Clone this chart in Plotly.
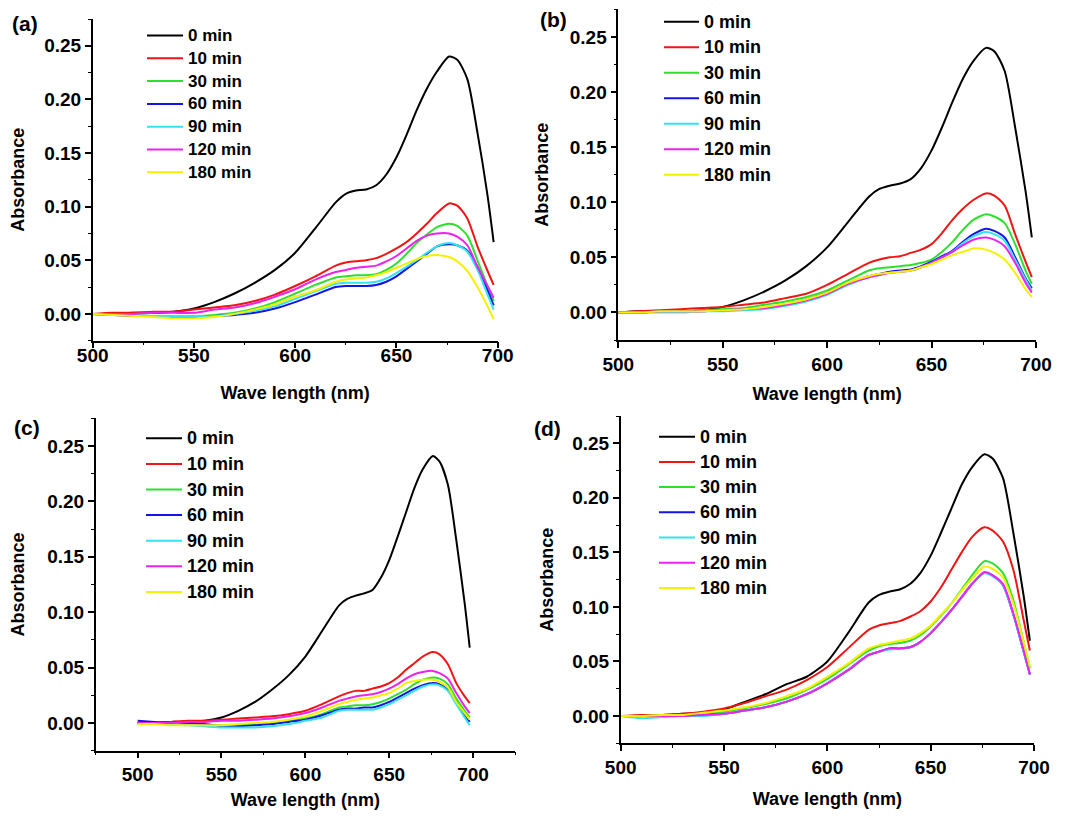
import plotly.graph_objects as go

# wavelength grid (nm) shared by every curve
wavelength = [500, 510, 520, 530, 540, 550, 560, 570, 580, 590, 600, 610, 620, 625, 630,
              635, 640, 645, 650, 655, 660, 665, 670, 676, 680, 685, 690, 695, 698]

times = ["0 min", "10 min", "30 min", "60 min", "90 min", "120 min", "180 min"]
colors = ["#000000", "#f01414", "#2ee02e", "#1414e6", "#33e3f0", "#ee22ee", "#f5f000"]

# panel (a)
a_0 = [0.000, 0.000, 0.001, 0.001, 0.002, 0.005, 0.011, 0.019, 0.029, 0.041, 0.057, 0.080, 0.104, 0.112, 0.115,
       0.116, 0.120, 0.130, 0.146, 0.167, 0.190, 0.210, 0.226, 0.240, 0.237, 0.219, 0.169, 0.110, 0.067]
a_10 = [0.000, 0.001, 0.001, 0.002, 0.002, 0.004, 0.006, 0.008, 0.012, 0.018, 0.026, 0.035, 0.045, 0.048, 0.049,
        0.050, 0.052, 0.056, 0.061, 0.067, 0.075, 0.084, 0.094, 0.103, 0.101, 0.089, 0.063, 0.040, 0.027]
a_30 = [0.000, -0.001, -0.001, -0.002, -0.002, -0.002, -0.001, 0.001, 0.005, 0.011, 0.019, 0.027, 0.034, 0.035, 0.036,
        0.036, 0.037, 0.041, 0.047, 0.056, 0.066, 0.074, 0.081, 0.084, 0.082, 0.073, 0.050, 0.026, 0.012]
a_60 = [0.000, -0.001, -0.002, -0.002, -0.003, -0.003, -0.002, -0.001, 0.001, 0.005, 0.011, 0.018, 0.025, 0.026, 0.026,
        0.026, 0.027, 0.030, 0.035, 0.042, 0.049, 0.056, 0.063, 0.065, 0.064, 0.059, 0.044, 0.022, 0.008]
a_90 = [0.000, -0.001, -0.001, -0.002, -0.002, -0.002, -0.002, 0.000, 0.003, 0.007, 0.014, 0.021, 0.028, 0.029, 0.029,
        0.029, 0.030, 0.033, 0.038, 0.044, 0.050, 0.057, 0.063, 0.066, 0.064, 0.058, 0.041, 0.018, 0.004]
a_120 = [0.000, 0.000, 0.000, 0.001, 0.001, 0.001, 0.004, 0.006, 0.010, 0.016, 0.023, 0.032, 0.039, 0.041, 0.043,
         0.044, 0.045, 0.049, 0.054, 0.061, 0.068, 0.073, 0.075, 0.075, 0.072, 0.064, 0.044, 0.026, 0.015]
a_180 = [0.000, -0.001, -0.002, -0.003, -0.004, -0.004, -0.003, 0.000, 0.004, 0.009, 0.016, 0.022, 0.030, 0.032, 0.033,
         0.034, 0.036, 0.039, 0.043, 0.047, 0.051, 0.054, 0.055, 0.053, 0.049, 0.040, 0.025, 0.007, -0.005]

# panel (b)
b_0 = [0.000, 0.001, 0.001, 0.001, 0.002, 0.005, 0.011, 0.019, 0.029, 0.042, 0.059, 0.082, 0.105, 0.112, 0.115,
       0.117, 0.121, 0.131, 0.147, 0.168, 0.191, 0.212, 0.228, 0.240, 0.237, 0.219, 0.168, 0.110, 0.068]
b_10 = [0.000, 0.001, 0.002, 0.003, 0.004, 0.005, 0.007, 0.009, 0.013, 0.017, 0.025, 0.035, 0.045, 0.048, 0.050,
        0.051, 0.054, 0.057, 0.062, 0.072, 0.084, 0.094, 0.102, 0.108, 0.106, 0.097, 0.071, 0.046, 0.032]
b_30 = [0.000, 0.000, 0.001, 0.001, 0.002, 0.003, 0.004, 0.007, 0.010, 0.014, 0.020, 0.029, 0.038, 0.040, 0.041,
        0.042, 0.043, 0.045, 0.048, 0.055, 0.064, 0.075, 0.084, 0.089, 0.087, 0.081, 0.062, 0.038, 0.026]
b_60 = [0.000, 0.000, 0.001, 0.001, 0.001, 0.002, 0.003, 0.004, 0.007, 0.012, 0.018, 0.026, 0.033, 0.035, 0.037,
        0.038, 0.039, 0.042, 0.046, 0.051, 0.056, 0.064, 0.071, 0.076, 0.074, 0.068, 0.050, 0.031, 0.022]
b_90 = [0.000, 0.000, 0.000, 0.000, 0.001, 0.001, 0.002, 0.003, 0.006, 0.010, 0.016, 0.025, 0.032, 0.034, 0.036,
        0.037, 0.038, 0.041, 0.045, 0.050, 0.055, 0.063, 0.069, 0.073, 0.071, 0.065, 0.048, 0.030, 0.020]
b_120 = [0.000, 0.000, 0.001, 0.001, 0.001, 0.002, 0.003, 0.004, 0.007, 0.011, 0.017, 0.026, 0.032, 0.034, 0.036,
         0.037, 0.038, 0.041, 0.045, 0.050, 0.055, 0.061, 0.066, 0.068, 0.066, 0.060, 0.045, 0.027, 0.018]
b_180 = [0.000, 0.000, 0.001, 0.001, 0.001, 0.002, 0.003, 0.005, 0.008, 0.012, 0.018, 0.027, 0.033, 0.035, 0.036,
         0.037, 0.038, 0.041, 0.044, 0.048, 0.052, 0.055, 0.058, 0.057, 0.054, 0.048, 0.036, 0.021, 0.014]

# panel (c)
c_0 = [0.000, 0.000, 0.001, 0.001, 0.002, 0.005, 0.011, 0.019, 0.030, 0.043, 0.060, 0.083, 0.106, 0.112, 0.115,
       0.117, 0.120, 0.131, 0.147, 0.168, 0.190, 0.212, 0.229, 0.241, 0.236, 0.215, 0.165, 0.108, 0.068]
c_10 = [0.000, 0.000, 0.001, 0.002, 0.002, 0.003, 0.004, 0.005, 0.006, 0.008, 0.011, 0.017, 0.024, 0.027, 0.029,
        0.029, 0.031, 0.033, 0.036, 0.041, 0.048, 0.054, 0.060, 0.064, 0.062, 0.053, 0.036, 0.024, 0.018]
c_30 = [-0.001, -0.001, -0.001, -0.001, -0.002, -0.002, -0.002, -0.001, 0.000, 0.002, 0.004, 0.008, 0.014, 0.015, 0.016,
        0.016, 0.017, 0.019, 0.022, 0.026, 0.030, 0.035, 0.039, 0.041, 0.040, 0.035, 0.022, 0.011, 0.005]
c_60 = [0.002, 0.001, 0.000, 0.000, -0.001, -0.003, -0.003, -0.002, -0.001, 0.001, 0.003, 0.007, 0.012, 0.013, 0.013,
        0.014, 0.014, 0.016, 0.019, 0.023, 0.027, 0.031, 0.034, 0.036, 0.035, 0.030, 0.019, 0.007, 0.001]
c_90 = [-0.001, -0.001, -0.001, -0.002, -0.003, -0.004, -0.004, -0.004, -0.003, -0.001, 0.002, 0.005, 0.011, 0.012, 0.012,
        0.012, 0.012, 0.014, 0.017, 0.021, 0.025, 0.029, 0.033, 0.035, 0.034, 0.029, 0.017, 0.005, -0.002]
c_120 = [0.000, 0.000, 0.000, 0.001, 0.001, 0.002, 0.002, 0.003, 0.004, 0.006, 0.009, 0.014, 0.020, 0.022, 0.024,
         0.025, 0.026, 0.028, 0.031, 0.035, 0.040, 0.044, 0.046, 0.047, 0.045, 0.040, 0.027, 0.015, 0.009]
c_180 = [-0.001, -0.001, -0.002, -0.002, -0.002, -0.002, -0.001, 0.000, 0.001, 0.003, 0.006, 0.011, 0.017, 0.019, 0.021,
         0.022, 0.023, 0.025, 0.027, 0.031, 0.036, 0.038, 0.039, 0.039, 0.037, 0.032, 0.019, 0.009, 0.003]

# panel (d)
d_0 = [0.000, 0.000, 0.001, 0.002, 0.003, 0.006, 0.013, 0.020, 0.029, 0.036, 0.050, 0.076, 0.104, 0.111, 0.114,
       0.116, 0.121, 0.131, 0.147, 0.168, 0.190, 0.212, 0.228, 0.240, 0.236, 0.218, 0.168, 0.110, 0.069]
d_10 = [0.000, 0.001, 0.001, 0.002, 0.004, 0.007, 0.012, 0.018, 0.024, 0.033, 0.045, 0.062, 0.079, 0.083, 0.085,
        0.087, 0.091, 0.096, 0.105, 0.118, 0.134, 0.150, 0.164, 0.173, 0.170, 0.160, 0.134, 0.088, 0.060]
d_30 = [0.000, 0.000, 0.001, 0.001, 0.002, 0.004, 0.007, 0.011, 0.016, 0.024, 0.034, 0.047, 0.060, 0.064, 0.066,
        0.067, 0.069, 0.074, 0.082, 0.092, 0.103, 0.116, 0.129, 0.142, 0.140, 0.131, 0.106, 0.068, 0.044]
d_60 = [0.000, 0.000, 0.000, 0.000, 0.001, 0.002, 0.005, 0.008, 0.013, 0.020, 0.030, 0.042, 0.056, 0.059, 0.062,
        0.062, 0.063, 0.068, 0.076, 0.086, 0.097, 0.109, 0.121, 0.131, 0.129, 0.120, 0.093, 0.059, 0.038]
d_90 = [0.000, -0.002, -0.001, 0.000, 0.000, 0.002, 0.005, 0.008, 0.013, 0.020, 0.030, 0.042, 0.056, 0.059, 0.061,
        0.062, 0.063, 0.068, 0.076, 0.086, 0.097, 0.109, 0.121, 0.131, 0.128, 0.120, 0.093, 0.059, 0.038]
d_120 = [0.000, 0.000, 0.000, 0.000, 0.001, 0.002, 0.005, 0.008, 0.013, 0.020, 0.030, 0.042, 0.056, 0.059, 0.062,
         0.062, 0.063, 0.068, 0.076, 0.086, 0.097, 0.109, 0.121, 0.132, 0.129, 0.121, 0.094, 0.060, 0.038]
d_180 = [0.000, 0.000, 0.001, 0.001, 0.003, 0.005, 0.008, 0.012, 0.018, 0.025, 0.036, 0.048, 0.062, 0.065, 0.067,
         0.069, 0.071, 0.076, 0.083, 0.093, 0.103, 0.115, 0.126, 0.137, 0.135, 0.127, 0.103, 0.068, 0.045]

panel_series = {
    "a": [a_0, a_10, a_30, a_60, a_90, a_120, a_180],
    "b": [b_0, b_10, b_30, b_60, b_90, b_120, b_180],
    "c": [c_0, c_10, c_30, c_60, c_90, c_120, c_180],
    "d": [d_0, d_10, d_30, d_60, d_90, d_120, d_180],
}

# the page body keeps its default 8px margin, so the figure is drawn that much smaller
OFF = 8
W, H = 1070 - 2 * OFF, 818 - 2 * OFF


def fx(px):
    return (px - OFF) / W


def fy(py):
    return 1 - (py - OFF) / H


# screen-pixel layout of each panel: axis box (left, right, top, bottom), x range,
# label standoffs, panel letter position, legend key (line x0, x1, first row y, step, size)
panels = [
    dict(key="a", px=(92.7, 497.7, 19, 340.7), xr=[500, 700], xls=-9, xts=21, yts=16,
         lab=(25, 23), leg=(147, 183, 35.5, 22.8, 17)),
    dict(key="b", px=(618.3, 1036, 9.3, 340), xr=[500, 700], xls=0, xts=14, yts=16,
         lab=(553, 20), leg=(664, 699, 21.7, 25.5, 18)),
    dict(key="c", px=(95.7, 515, 418.3, 750.7), xr=[475, 725], xls=0, xts=14, yts=18,
         lab=(27, 427), leg=(146, 182, 438.3, 25.6, 18)),
    dict(key="d", px=(620.7, 1034, 416, 743.3), xr=[500, 700], xls=0, xts=16, yts=14,
         lab=(547, 428), leg=(659, 695, 436.7, 25.2, 18)),
]

FAMILY = "Liberation Sans, Arial, sans-serif"
tick_font = dict(family=FAMILY, size=19, color="black", weight="bold")
title_font = dict(family=FAMILY, size=18, color="black", weight="bold")

fig = go.Figure()
annotations, shapes = [], []
layout = dict(width=W, height=H, margin=dict(l=0, r=0, t=0, b=0), showlegend=False,
              paper_bgcolor="white", plot_bgcolor="white")

for i, p in enumerate(panels, start=1):
    sfx = "" if i == 1 else str(i)
    left, right, top, bottom = p["px"]
    for t, (name, col) in enumerate(zip(times, colors)):
        fig.add_trace(go.Scatter(
            x=wavelength, y=panel_series[p["key"]][t], name=name, mode="lines",
            line=dict(color=col, width=2, shape="spline", smoothing=0.7),
            xaxis="x" + sfx, yaxis="y" + sfx,
        ))
    layout["xaxis" + sfx] = dict(
        domain=[fx(left), fx(right)], anchor="y" + sfx, range=p["xr"], automargin=False,
        tick0=500, dtick=50, ticks="outside", ticklen=6, tickwidth=1.5, tickcolor="black",
        minor=dict(ticks="outside", ticklen=3, tickwidth=1.2, tickcolor="black", dtick=25, tick0=500),
        showline=True, linecolor="black", linewidth=1.5, showgrid=False, zeroline=False,
        tickfont=tick_font, ticklabelstandoff=p["xls"],
        title=dict(text="Wave length (nm)", font=title_font, standoff=p["xts"]),
    )
    layout["yaxis" + sfx] = dict(
        domain=[fy(bottom), fy(top)], anchor="x" + sfx, range=[-0.025, 0.275],
        automargin=False, tick0=0, dtick=0.05, tickformat=".2f", ticks="outside", ticklen=6,
        tickwidth=1.5, tickcolor="black",
        minor=dict(ticks="outside", ticklen=3, tickwidth=1.2, tickcolor="black", dtick=0.025, tick0=0),
        showline=True, linecolor="black", linewidth=1.5, showgrid=False, zeroline=False,
        tickfont=tick_font, title=dict(text="Absorbance", font=title_font, standoff=p["yts"]),
    )

    # legend keys drawn by hand so that row spacing matches the original
    lx0, lx1, ly0, step, fs = p["leg"]
    for t, (name, col) in enumerate(zip(times, colors)):
        yy = fy(ly0 + t * step)
        shapes.append(dict(type="line", xref="paper", yref="paper", x0=fx(lx0), x1=fx(lx1),
                           y0=yy, y1=yy, line=dict(color=col, width=2)))
        annotations.append(dict(text=name, xref="paper", yref="paper", showarrow=False,
                                x=fx(lx1 + 3), y=yy, xanchor="left", yanchor="middle",
                                font=dict(family=FAMILY, size=fs, color="black", weight="bold")))

    annotations.append(dict(
        text="(" + p["key"] + ")", xref="paper", yref="paper", showarrow=False,
        x=fx(p["lab"][0]), y=fy(p["lab"][1]), xanchor="center", yanchor="middle",
        font=dict(family=FAMILY, size=21, color="black", weight="bold"),
    ))

layout["annotations"] = annotations
layout["shapes"] = shapes
fig.update_layout(**layout)
fig.write_html("out.html")
